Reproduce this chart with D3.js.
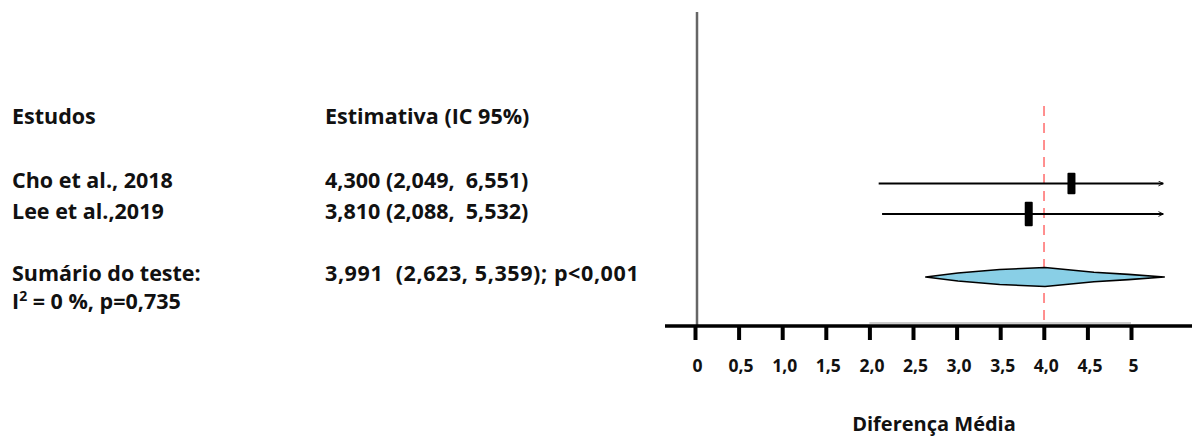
<!DOCTYPE html>
<html>
<head>
<meta charset="utf-8">
<script src="https://cdn.jsdelivr.net/npm/d3@7"></script>
<style>
  body { margin: 0; background: #fff; }
  svg text { font-family: "Open Sans", Lato, sans-serif; font-weight: 700; fill: #111; white-space: pre; }
</style>
</head>
<body>
<svg width="1192" height="437"></svg>
<script>
// studies
const studies = ['Cho et al., 2018', 'Lee et al.,2019']
const estimates = [4.300, 3.810]
const lower = [2.049, 2.088]
const upper = [6.551, 5.532]
const weights = [0.47, 0.53]
const estLabels = ['4,300 (2,049,  6,551)', '3,810 (2,088,  5,532)']

// pooled
const summary = { est: 3.991, lo: 2.623, hi: 5.359 }
const summaryLabel = '3,991  (2,623, 5,359); p<0,001'

// axis
const tickValues = [0, 0.5, 1, 1.5, 2, 2.5, 3, 3.5, 4, 4.5, 5]
const tickLabels = ['0', '0,5', '1,0', '1,5', '2,0', '2,5', '3,0', '3,5', '4,0', '4,5', '5']
const xMax = 5.37   // lines are cut here and get an arrow

const svg = d3.select('svg')
const x = d3.scaleLinear().domain([0, 5]).range([695, 1131])
const axisY = 326
const rowY = [183.5, 214]
const sumY = 277
const fs = 21.5

svg.append('defs').append('marker')
    .attr('id', 'arr')
    .attr('viewBox', '0 0 10 10')
    .attr('refX', 9).attr('refY', 5)
    .attr('markerWidth', 6).attr('markerHeight', 6)
    .attr('markerUnits', 'userSpaceOnUse')
    .attr('orient', 'auto')
    .append('path')
    .attr('d', 'M1,1 L9,5 L1,9')
    .attr('fill', 'none').attr('stroke', '#000').attr('stroke-width', 1.5)

// left table
const txt = svg.append('g')
const col1 = 12, col2 = 325
txt.append('text').attr('x', col1).attr('y', 124).attr('font-size', fs).text('Estudos')
txt.append('text').attr('x', col2).attr('y', 124).attr('font-size', fs).text('Estimativa (IC 95%)')
const textRowY = [188, 219]
studies.forEach((s, i) => {
    txt.append('text').attr('x', col1).attr('y', textRowY[i]).attr('font-size', fs).text(s)
    txt.append('text').attr('x', col2).attr('y', textRowY[i]).attr('font-size', fs).text(estLabels[i])
})
txt.append('text').attr('x', col1).attr('y', 281).attr('font-size', fs).text('Sumário do teste:')
txt.append('text').attr('x', col2).attr('y', 281).attr('font-size', fs)
    .attr('letter-spacing', 0.6).text(summaryLabel)
const i2 = txt.append('text').attr('x', col1).attr('y', 309).attr('font-size', fs)
i2.append('tspan').text('I')
i2.append('tspan').attr('font-size', 14).attr('dy', -8).text('2')
i2.append('tspan').attr('dy', 8).text(' = 0 %, p=0,735')

// zero line
svg.append('line')
    .attr('x1', x(0) + 2).attr('x2', x(0) + 2)
    .attr('y1', 12).attr('y2', axisY)
    .attr('stroke', '#666').attr('stroke-width', 2.5)

// pooled estimate reference line
svg.append('line')
    .attr('x1', x(summary.est) + 1).attr('x2', x(summary.est) + 1)
    .attr('y1', 106).attr('y2', axisY)
    .attr('stroke', '#ff6b6b').attr('stroke-width', 1.5)
    .attr('stroke-dasharray', '10,7')

// CI lines and boxes
const rows = studies.map((s, i) => ({ name: s, est: estimates[i], lo: lower[i], hi: upper[i], w: weights[i], y: rowY[i] }))
svg.selectAll('line.ci').data(rows).enter().append('line')
    .attr('class', 'ci')
    .attr('x1', d => x(d.lo) + 5).attr('x2', d => x(Math.min(d.hi, xMax)))
    .attr('y1', d => d.y).attr('y2', d => d.y)
    .attr('stroke', '#000').attr('stroke-width', 2)
    .attr('marker-end', d => d.hi > xMax ? 'url(#arr)' : null)
svg.selectAll('rect.box').data(rows).enter().append('rect')
    .attr('class', 'box')
    .attr('x', d => x(d.est) - 4 + 1.5).attr('width', 8)
    .attr('y', d => d.y - d.w * 23).attr('height', d => d.w * 46)
    .attr('rx', 1)
    .attr('fill', '#000')

// diamond: [fraction toward estimate on each side, half height]
const left = [[0, 0], [0.27, 0.42], [0.62, 0.79], [1, 1]]
const right = [[1, 1], [0.59, 0.5], [0.3, 0.28], [0, 0]]
const sx = (side, f) => side === 'l'
    ? summary.lo + (summary.est - summary.lo) * f
    : summary.hi - (summary.hi - summary.est) * f
const dpts = [
    ...left.map(p => [sx('l', p[0]), -p[1]]),
    ...right.map(p => [sx('r', p[0]), -p[1]]).slice(1),
    ...right.slice().reverse().map(p => [sx('r', p[0]), p[1]]).slice(1),
    ...left.slice().reverse().map(p => [sx('l', p[0]), p[1]]).slice(0, -1)
]
svg.append('path')
    .attr('d', d3.line().x(d => x(d[0]) + 2).y(d => sumY + d[1] * 9.5).curve(d3.curveLinearClosed)(dpts))
    .attr('fill', '#89cfe6').attr('stroke', '#000').attr('stroke-width', 1.6)
    .attr('stroke-linejoin', 'round')

// axis
svg.append('line')
    .attr('x1', x(2)).attr('x2', x(5))
    .attr('y1', axisY - 3).attr('y2', axisY - 3)
    .attr('stroke', '#ccc').attr('stroke-width', 2)
svg.append('line')
    .attr('x1', 665).attr('x2', 1192)
    .attr('y1', axisY).attr('y2', axisY)
    .attr('stroke', '#000').attr('stroke-width', 3.5)

const xAxis = d3.axisBottom(x)
    .tickValues(tickValues)
    .tickFormat((d, i) => tickLabels[i])
    .tickSize(14)
    .tickPadding(20)
const ax = svg.append('g').attr('transform', `translate(0,${axisY})`).call(xAxis)
ax.select('.domain').remove()
ax.selectAll('.tick line').attr('stroke', '#000').attr('stroke-width', 4)
ax.selectAll('.tick text')
    .attr('dx', 2)
    .attr('font-size', 17.5).attr('fill', '#111')
    .style('font-family', '"Open Sans", Lato, sans-serif').style('font-weight', 700)

svg.append('text')
    .attr('x', 934).attr('y', 431)
    .attr('text-anchor', 'middle').attr('font-size', 20)
    .text('Diferença Média')
</script>
</body>
</html>
